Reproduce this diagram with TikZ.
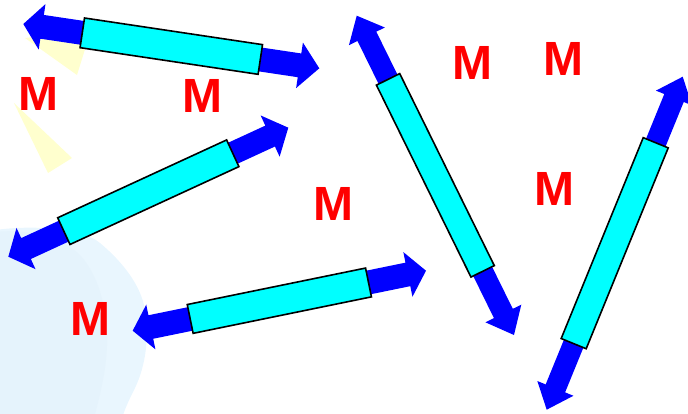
\documentclass[tikz,border=0pt]{standalone}
\usepackage{fontspec}
\setmainfont{Liberation Sans}
\definecolor{arrblue}{RGB}{0,0,255}
\definecolor{barcyan}{RGB}{0,255,255}
\definecolor{mred}{RGB}{255,0,0}
\definecolor{beamyellow}{RGB}{255,255,206}
\definecolor{glowout}{RGB}{233,246,254}
\definecolor{glowin}{RGB}{229,243,252}
\tikzset{
  mlabel/.style={text=mred, inner sep=0pt, font=\fontsize{48}{48}\selectfont\bfseries},
  shaftfill/.style={fill=arrblue, draw=none},
  barbox/.style={fill=barcyan, draw=black, line width=1.6pt},
}
% #1 centre, #2 angle, #3 half length, #4 head length at start, #5 head length at end,
% #6 head half width, #7 shaft half width, #8 bar half length, #9 bar half width
\newcommand{\DoubleBar}[9]{%
  \begin{scope}[shift={#1}, rotate=#2]
    \fill[shaftfill] (-#3,0) -- ({-#3+#4},#6) -- ({-#3+#4},#7) -- ({#3-#5},#7)
      -- ({#3-#5},#6) -- (#3,0) -- ({#3-#5},-#6) -- ({#3-#5},-#7)
      -- ({-#3+#4},-#7) -- ({-#3+#4},-#6) -- cycle;
    \draw[barbox] (-#8,-#9) rectangle (#8,#9);
  \end{scope}}
\begin{document}
\begin{tikzpicture}[x=1pt, y=-1pt]
\useasboundingbox (0,0) rectangle (688,413);
\clip (0,0) rectangle (688,413);
% light blue glow at bottom left
\fill[glowout] (-5,230) .. controls (40,224) and (85,230) .. (100,243)
  .. controls (118,258) and (138,280) .. (144,305)
  .. controls (150,335) and (146,365) .. (135,388)
  .. controls (130,398) and (126,406) .. (122,418) -- (-5,418) -- cycle;
\fill[glowin] (-5,232) .. controls (30,228) and (65,240) .. (80,255)
  .. controls (98,275) and (106,305) .. (107,335)
  .. controls (108,365) and (100,395) .. (94,418) -- (-5,418) -- cycle;
% yellow beams
\fill[beamyellow] (25,38) -- (91,30) -- (77,75) -- cycle;
\fill[beamyellow] (14,103) -- (72,158) -- (48,173) -- cycle;
% double arrows with bars
\DoubleBar{(171.3,46.15)}{-8.51}{149.65}{19}{20}{23}{12}{90}{15}
\DoubleBar{(148.3,192.2)}{24.74}{154.15}{19.5}{20}{22.7}{11.5}{93}{14.7}
\DoubleBar{(279.35,300.7)}{11.56}{149.7}{18.5}{18.5}{22.8}{12}{91}{14.7}
\DoubleBar{(435.35,175.35)}{-63.78}{177.97}{23}{24}{20}{10.5}{107}{13}
\DoubleBar{(614.7,243.2)}{67.78}{179.85}{23}{23}{19.5}{10.5}{108.5}{13.5}
% letters
\node[mlabel] (m1) at (38.3,93.5) {M};
\node[mlabel] (m2) at (202.2,96.3) {M};
\node[mlabel] (m3) at (333.5,204) {M};
\node[mlabel] (m4) at (90.5,318.7) {M};
\node[mlabel] (m5) at (472.5,62.8) {M};
\node[mlabel] (m6) at (563.2,58.8) {M};
\node[mlabel] (m7) at (554.8,189.2) {M};
\end{tikzpicture}
\end{document}
